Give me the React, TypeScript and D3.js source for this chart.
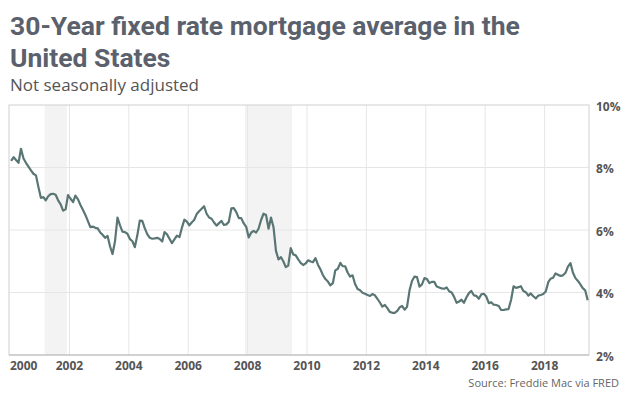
import React from 'react';
import * as d3 from 'd3';

// 30-year fixed mortgage rate, monthly (%), Jan 2000 - Jun 2019
const rates2000s = [
  8.21, 8.33, 8.24, 8.15, 8.60, 8.29, 8.15, 8.03, 7.91, 7.80, 7.75, 7.38,
  7.03, 7.05, 6.95, 7.08, 7.15, 7.16, 7.13, 6.95, 6.82, 6.62, 6.66, 7.12,
  7.00, 6.89, 7.10, 6.99, 6.81, 6.65, 6.49, 6.29, 6.09, 6.11, 6.07, 6.05,
  5.92, 5.84, 5.75, 5.81, 5.48, 5.23, 5.63, 6.40, 6.15, 5.95, 5.93, 5.88,
  5.71, 5.64, 5.45, 5.83, 6.30, 6.29, 6.06, 5.87, 5.75, 5.72, 5.73, 5.75,
  5.71, 5.63, 5.93, 5.86, 5.72, 5.58, 5.70, 5.82, 5.77, 6.07, 6.33, 6.27,
  6.15, 6.25, 6.32, 6.51, 6.60, 6.68, 6.76, 6.52, 6.40, 6.36, 6.24, 6.14,
  6.22, 6.29, 6.16, 6.18, 6.26, 6.69, 6.70, 6.57, 6.38, 6.38, 6.21, 6.10,
  5.76, 5.92, 5.97, 5.92, 6.04, 6.32, 6.52, 6.48, 6.04, 6.40, 6.09, 5.33,
  5.06, 5.13, 5.00, 4.81, 4.86, 5.42, 5.22, 5.19, 5.06, 4.95, 4.88, 4.93,
];
const rates2010s = [
  5.03, 4.99, 4.97, 5.10, 4.89, 4.74, 4.56, 4.43, 4.35, 4.23, 4.30, 4.71,
  4.76, 4.95, 4.84, 4.84, 4.64, 4.51, 4.55, 4.27, 4.11, 4.07, 3.99, 3.96,
  3.92, 3.89, 3.95, 3.91, 3.80, 3.68, 3.55, 3.60, 3.50, 3.38, 3.35, 3.35,
  3.41, 3.53, 3.57, 3.45, 3.54, 4.07, 4.37, 4.51, 4.49, 4.19, 4.26, 4.46,
  4.43, 4.30, 4.34, 4.34, 4.19, 4.16, 4.13, 4.12, 4.16, 4.04, 4.00, 3.86,
  3.67, 3.71, 3.77, 3.67, 3.84, 3.98, 4.05, 3.91, 3.89, 3.80, 3.94, 3.96,
  3.87, 3.66, 3.69, 3.61, 3.60, 3.57, 3.44, 3.44, 3.46, 3.47, 3.77, 4.20,
  4.15, 4.17, 4.20, 4.05, 4.01, 3.90, 3.97, 3.88, 3.81, 3.90, 3.92, 3.95,
  4.03, 4.33, 4.44, 4.47, 4.61, 4.57, 4.53, 4.55, 4.63, 4.83, 4.94, 4.64,
  4.46, 4.37, 4.27, 4.14, 4.07, 3.75,
];

const recessions = [
  ['2001-03-01', '2001-11-30'],
  ['2007-12-01', '2009-06-30'],
];
const yTicks = [2, 4, 6, 8, 10];
const xTickYears = [2000, 2002, 2004, 2006, 2008, 2010, 2012, 2014, 2016, 2018];

const W = 635;
const H = 398;
const left = 9;
const right = 589;
const top = 105;
const bottom = 355;

const data = [...rates2000s, ...rates2010s].map((v, i) => ({
  date: new Date(2000, i, 15),
  value: v,
}));

const x = d3.scaleTime()
  .domain([new Date(2000, 0, 1), new Date(2019, 6, 1)])
  .range([left + 1, right]);
const y = d3.scaleLinear().domain([2, 10]).range([bottom, top]);

const line = d3.line<{ date: Date; value: number }>()
  .x(d => x(d.date))
  .y(d => y(d.value));

const labelFont = '"Open Sans", "DejaVu Sans", sans-serif';

export default function App() {
  return (
    <div style={{ position: 'absolute', left: 0, top: 0 }}>
      <svg width={W} height={H} style={{ display: 'block', background: '#fff' }}>
        {/* title */}
        <text x={10} y={35} fontFamily="Roboto, sans-serif" fontWeight={700} fontSize={26.5} fill="#5b616c">
          30-Year fixed rate mortgage average in the
        </text>
        <text x={10} y={67} fontFamily="Roboto, sans-serif" fontWeight={700} fontSize={26.5} fill="#5b616c">
          United States
        </text>
        <text x={10} y={91} fontFamily={labelFont} fontSize={17} fill="#555">
          Not seasonally adjusted
        </text>

        {/* recessions */}
        {recessions.map(([a, b]) => (
          <rect key={a}
            x={x(new Date(a))} y={top}
            width={x(new Date(b)) - x(new Date(a))} height={bottom - top}
            fill="#f3f3f3" />
        ))}

        {/* grid */}
        {yTicks.filter(t => t > 2 && t < 10).map(t => (
          <line key={t} x1={left} x2={right} y1={y(t)} y2={y(t)} stroke="#e6e6e6" />
        ))}
        {xTickYears.filter(yr => yr > 2000).map(yr => {
          const xx = x(new Date(yr, 0, 1));
          return <line key={yr} x1={xx} x2={xx} y1={top} y2={bottom} stroke="#e6e6e6" />;
        })}

        {/* frame */}
        <rect x={left} y={top} width={right - left} height={bottom - top} fill="none" stroke="#d0d0d0" />
        <line x1={left} x2={right} y1={bottom} y2={bottom} stroke="#bbb" />

        <path d={line(data) || ''} fill="none" stroke="#5a7674" strokeWidth={2.2} strokeLinejoin="round" />

        {/* axes */}
        {yTicks.map(t => (
          <text key={t} x={596} y={y(t) + 5.5} fontFamily={labelFont} fontWeight={700} fontSize={12} fill="#555">
            {t}%
          </text>
        ))}
        {xTickYears.map(yr => {
          const xx = x(new Date(yr, 0, 1));
          return (
            <text key={yr} x={yr === 2000 ? 10 : xx} y={370}
              textAnchor={yr === 2000 ? 'start' : 'middle'}
              fontFamily={labelFont} fontWeight={700} fontSize={12} fill="#555">
              {yr}
            </text>
          );
        })}

        <text x={619} y={387} textAnchor="end" fontFamily={labelFont} fontSize={11} fill="#666">
          Source: Freddie Mac via FRED
        </text>
      </svg>
    </div>
  );
}
